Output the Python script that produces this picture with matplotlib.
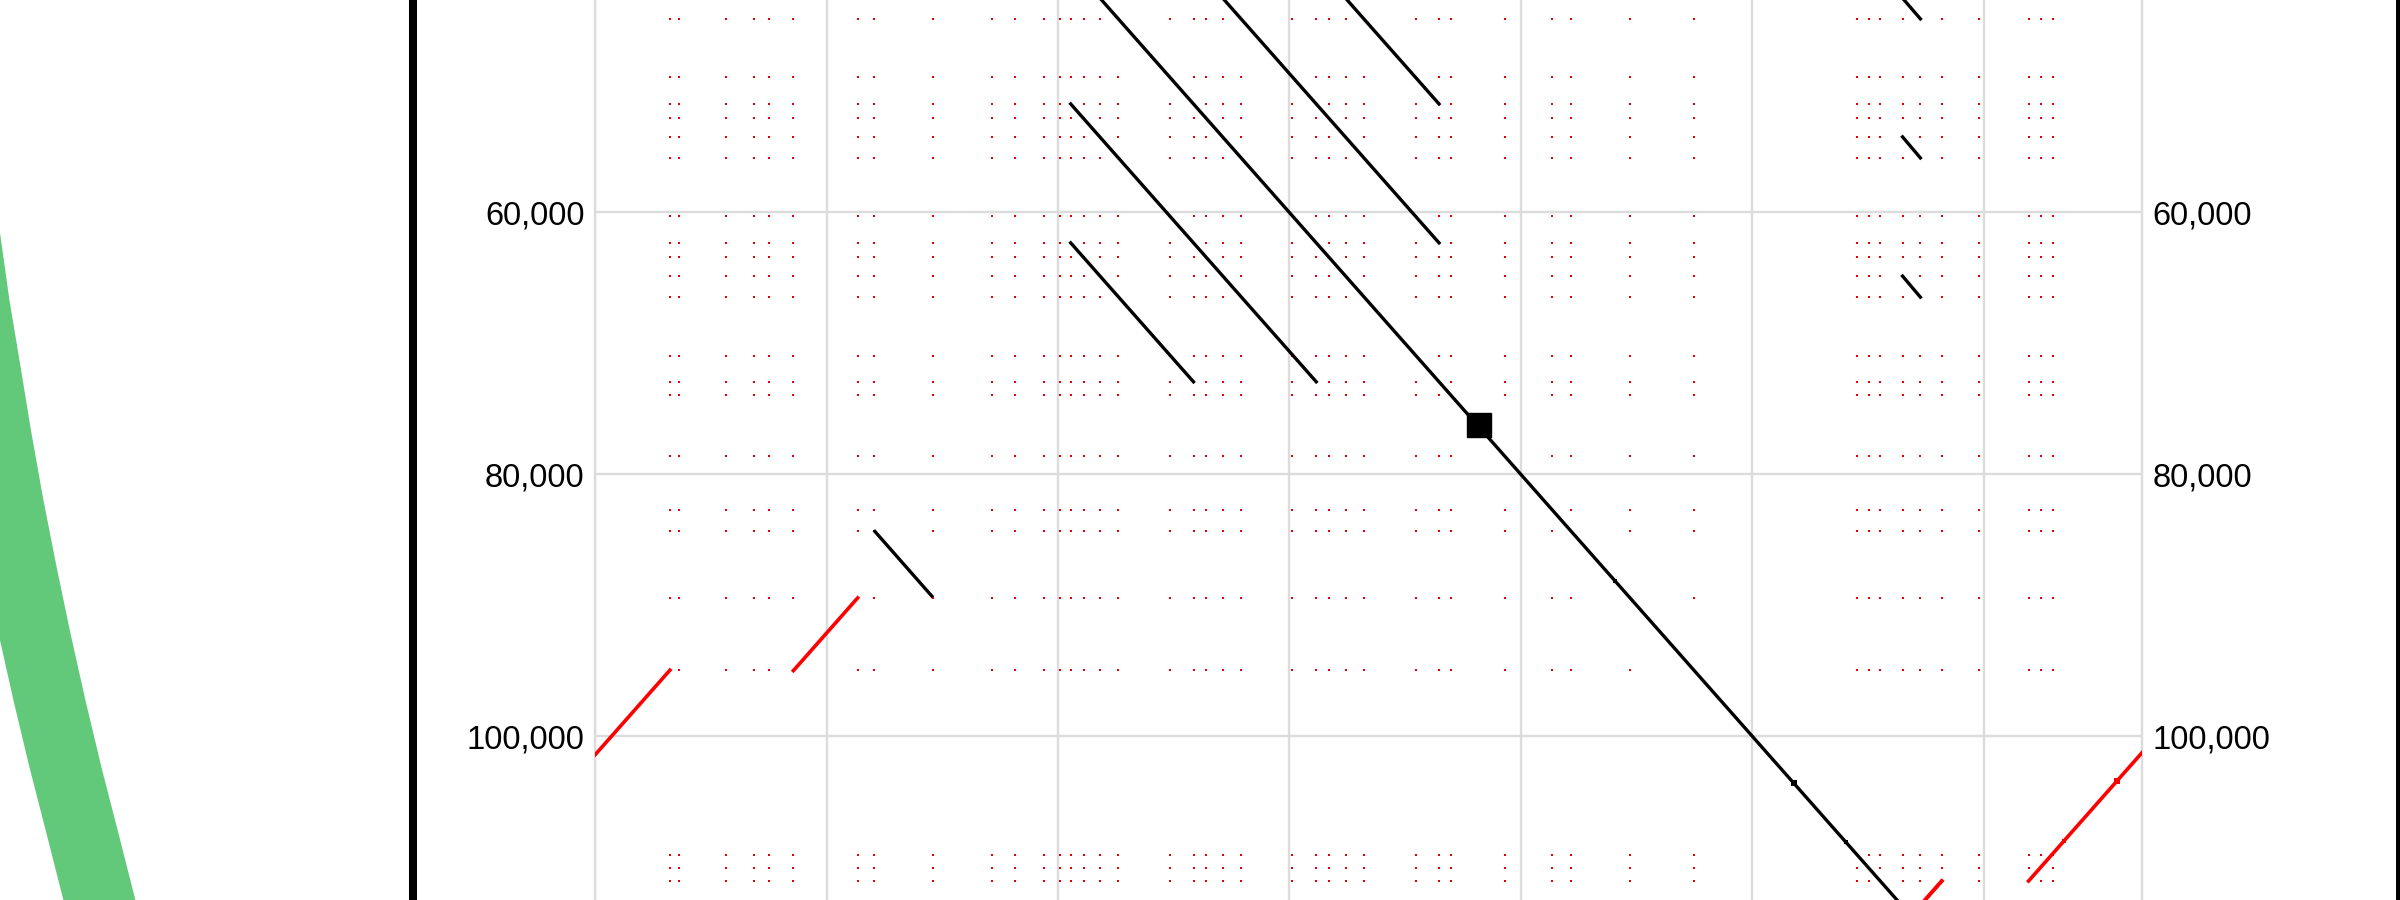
import numpy as np
import matplotlib.pyplot as plt
from matplotlib.lines import Line2D
from matplotlib.patches import Rectangle
from matplotlib.ticker import FuncFormatter, MultipleLocator

plt.rcParams['font.family'] = ['Liberation Sans', 'DejaVu Sans']

GENOME_LEN = 133680

# short motif positions (bp); every pair of sites gives a small reverse hit
motif_sites = [6464, 7216, 11269, 13697, 15062, 17136, 22693, 24145, 29174,
               34324, 36269, 38827, 40149, 41116, 42222, 43631, 45210, 49640,
               51720, 52805, 54227, 55830, 60265, 62319, 63428, 64858, 66465,
               70933, 72931, 73928, 78622, 82690, 84330, 89436, 94955, 109088,
               110090, 111059, 112988, 114527, 116376, 119600, 123877, 124974,
               125994]

# forward hits off the main diagonal (one triangle, mirrored when drawn)
fwd_x0 = [41100, 41100, 112988, 112988, 112988, 24180]
fwd_y0 = [51710, 62320, 43631, 54227, 64858, 84360]
fwd_x1 = [62320, 51710, 114527, 114527, 114527, 29100]
fwd_y1 = [72930, 72930, 45210, 55830, 66465, 89300]

# reverse-complement hits
rev_x0 = [0, 17136, 116376, 123877]
rev_y0 = [101419, 94990, 111059, 111059]
rev_x1 = [6464, 22690, 111059, 133680]
rev_y1 = [94955, 89436, 116376, 101256]

# dense clusters shown as small blobs
blob_fwd_pos = [88120, 103575, 108080]
blob_fwd_size = [3.0, 5.0, 3.0]
blob_rev_x = [126936, 131490]
blob_rev_y = [108000, 103446]
blob_rev_size = [3.5, 5.0]

# tandem-repeat block on the diagonal (x0, y0, width, height)
block = (75320, 75290, 2074, 1833)

# y ticks that fall inside the picture
ytick_vals = [60000, 80000, 100000]

# curve from the neighbouring panel on the left (panel pixels, right edge)
green_y = [120, 180, 236, 300, 366, 433, 500, 566, 633, 700, 767, 833, 900, 950]
green_x_right = [-14, -7, 0, 9, 20, 31, 43, 56, 70, 85, 101, 118, 135, 148]
green_width = 72

fig = plt.figure(figsize=(24, 9), dpi=100)

# left neighbour panel
axl = fig.add_axes([0, 0, 412 / 2400, 1])
axl.set_xlim(0, 412)
axl.set_ylim(900, 0)
gx = np.array(green_x_right)
axl.fill_betweenx(green_y, gx - green_width, gx, color='#62c87a', lw=0)
axl.axis('off')

# dot plot
ax = fig.add_axes([595.1 / 2400, 1 - 1177.2 / 900, 1546.9 / 2400, 1750.3 / 900])
ax.set_xlim(0, GENOME_LEN)
ax.set_ylim(GENOME_LEN, 0)

sx, sy = np.meshgrid(motif_sites, motif_sites)
ax.plot(sx.ravel(), sy.ravel(), 's', color='#e80000', ms=1.7, mew=0, zorder=2)

ax.plot([0, GENOME_LEN], [0, GENOME_LEN], color='black', lw=2.4, zorder=3)
for a, b, c, d in zip(fwd_x0, fwd_y0, fwd_x1, fwd_y1):
    ax.plot([a, c], [b, d], color='black', lw=2.4, zorder=3)
    ax.plot([b, d], [a, c], color='black', lw=2.4, zorder=3)
for a, b, c, d in zip(rev_x0, rev_y0, rev_x1, rev_y1):
    ax.plot([a, c], [b, d], color='red', lw=2.6, zorder=3)
    ax.plot([b, d], [a, c], color='red', lw=2.6, zorder=3)

for p, s in zip(blob_fwd_pos, blob_fwd_size):
    ax.plot(p, p, 's', color='black', ms=s, mew=0, zorder=4)
for x, y, s in zip(blob_rev_x, blob_rev_y, blob_rev_size):
    ax.plot(x, y, 's', color='red', ms=s, mew=0, zorder=4)

ax.add_patch(Rectangle(block[:2], block[2], block[3], color='black', zorder=4))

ax.xaxis.set_major_locator(MultipleLocator(20000))
ax.set_yticks(ytick_vals)
ax.yaxis.set_major_formatter(FuncFormatter(lambda v, p: f'{int(v):,}'))
ax.grid(True, color='#dcdcdc', lw=1.7)
ax.set_axisbelow(True)
for sp in ax.spines.values():
    sp.set_color('#dcdcdc')
    sp.set_linewidth(1.7)
ax.tick_params(axis='y', length=0, pad=7.5, labelsize=23.5,
               labelleft=True, labelright=True)
ax.tick_params(axis='x', length=0, labelbottom=False, labeltop=False)

# panel borders
fig.add_artist(Line2D([412.7 / 2400] * 2, [0, 1], color='black', lw=5.8,
                      transform=fig.transFigure))
fig.add_artist(Line2D([2398.5 / 2400] * 2, [0, 1], color='black', lw=5.0,
                      transform=fig.transFigure))

fig.savefig('out.png', dpi=100)
